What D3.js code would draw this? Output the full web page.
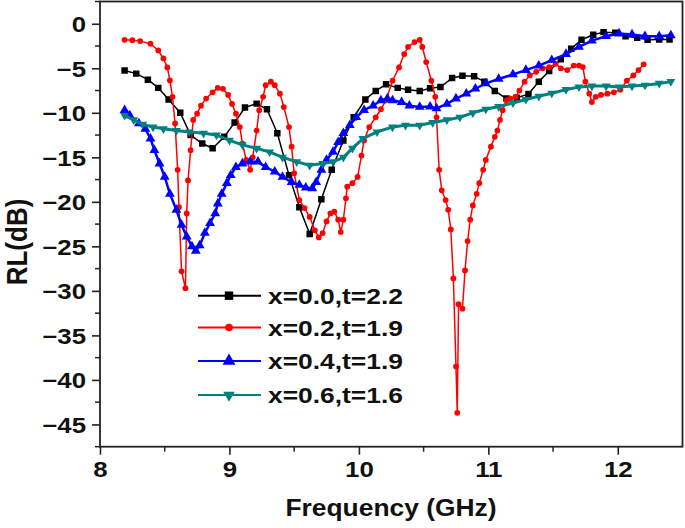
<!DOCTYPE html>
<html>
<head>
<meta charset="utf-8">
<script src="https://cdn.jsdelivr.net/npm/d3@7"></script>
<style>
  body { margin: 0; background: #fff; }
  svg text { font-family: "Liberation Sans", Arial, sans-serif; font-weight: bold; fill: #111; }
</style>
</head>
<body>
<svg id="chart" width="685" height="528"></svg>
<script>
// series: [frequency GHz, RL dB]
var x00 = [[8.19,-5.24],[8.28,-5.6],[8.37,-6.28],[8.45,-7.2],[8.53,-8.5],[8.62,-10.0],[8.70,-12.5],[8.79,-13.45],[8.87,-13.98],[8.96,-12.7],[9.04,-11.1],[9.12,-9.4],[9.21,-8.97],[9.29,-9.6],[9.37,-12.3],[9.46,-17.0],[9.54,-20.6],[9.62,-23.6],[9.71,-19.7],[9.79,-16.4],[9.88,-13.1],[9.96,-10.5],[10.05,-8.5],[10.13,-7.55],[10.21,-6.8],[10.30,-7.2],[10.38,-7.4],[10.47,-7.55],[10.55,-7.25],[10.63,-7.1],[10.72,-6.1],[10.80,-5.83],[10.89,-5.9],[10.97,-6.5],[11.05,-7.55],[11.14,-8.4],[11.22,-8.3],[11.31,-7.9],[11.39,-6.5],[11.47,-5.3],[11.56,-4.0],[11.64,-2.8],[11.72,-1.8],[11.81,-1.23],[11.89,-0.94],[11.98,-1.0],[12.06,-1.4],[12.15,-1.57],[12.23,-1.8],[12.32,-1.76],[12.40,-1.76]];

var x02 = [[8.19,-1.8],[8.25,-1.85],[8.31,-1.95],[8.39,-2.24],[8.45,-3.0],[8.49,-3.9],[8.52,-4.9],[8.54,-6.36],[8.56,-8.2],[8.58,-11.2],[8.60,-16.4],[8.61,-20.6],[8.63,-27.8],[8.66,-29.7],[8.67,-21.3],[8.68,-17.6],[8.70,-14.2],[8.72,-10.8],[8.75,-10.1],[8.78,-9.2],[8.82,-8.4],[8.87,-7.7],[8.91,-7.2],[8.95,-7.3],[8.99,-8.0],[9.02,-9.0],[9.05,-10.1],[9.08,-11.6],[9.10,-13.45],[9.13,-15.3],[9.16,-16.4],[9.18,-15.0],[9.21,-12.0],[9.23,-9.7],[9.26,-8.2],[9.28,-6.9],[9.32,-6.5],[9.35,-6.9],[9.39,-7.85],[9.42,-9.35],[9.46,-11.6],[9.48,-13.8],[9.50,-16.8],[9.54,-19.8],[9.58,-20.7],[9.62,-21.7],[9.66,-23.2],[9.69,-24.0],[9.72,-23.5],[9.75,-22.2],[9.78,-21.3],[9.81,-21.1],[9.84,-22.0],[9.86,-23.4],[9.88,-22.0],[9.90,-19.6],[9.91,-18.3],[9.95,-17.9],[9.99,-17.2],[10.02,-14.8],[10.04,-13.1],[10.08,-11.6],[10.13,-10.5],[10.17,-9.6],[10.21,-8.6],[10.26,-6.4],[10.31,-4.9],[10.35,-3.4],[10.38,-2.6],[10.43,-2.06],[10.47,-1.8],[10.49,-2.6],[10.52,-4.3],[10.56,-6.4],[10.59,-8.2],[10.60,-10.5],[10.62,-16.4],[10.64,-18.7],[10.67,-19.8],[10.69,-20.9],[10.71,-23.1],[10.73,-28.6],[10.75,-38.5],[10.76,-43.7],[10.77,-31.5],[10.80,-32.0],[10.82,-27.7],[10.84,-24.4],[10.86,-22.0],[10.88,-20.4],[10.91,-19.1],[10.93,-17.9],[10.96,-16.4],[10.98,-15.3],[11.02,-13.8],[11.05,-12.7],[11.07,-12.0],[11.09,-10.8],[11.11,-9.7],[11.14,-8.6],[11.17,-8.4],[11.21,-8.2],[11.24,-7.5],[11.28,-6.5],[11.32,-5.8],[11.37,-5.4],[11.42,-5.0],[11.47,-4.87],[11.52,-4.5],[11.56,-5.0],[11.61,-5.2],[11.66,-4.7],[11.70,-4.7],[11.73,-4.87],[11.75,-6.5],[11.78,-7.85],[11.80,-8.8],[11.83,-8.2],[11.87,-8.0],[11.92,-7.85],[11.97,-7.7],[12.02,-7.4],[12.07,-6.4],[12.12,-5.8],[12.16,-5.2],[12.20,-4.56]];

var x04 = [[8.19,-9.7],[8.23,-10.3],[8.30,-11.2],[8.35,-11.8],[8.39,-12.9],[8.42,-14.2],[8.46,-15.7],[8.50,-17.2],[8.54,-19.1],[8.59,-20.9],[8.63,-22.6],[8.67,-23.9],[8.71,-25.0],[8.74,-25.5],[8.77,-24.9],[8.81,-23.5],[8.85,-22.4],[8.89,-21.3],[8.91,-20.2],[8.94,-19.1],[8.98,-17.9],[9.01,-17.0],[9.05,-16.1],[9.10,-15.7],[9.16,-15.5],[9.22,-15.5],[9.28,-16.1],[9.35,-16.6],[9.41,-17.2],[9.48,-17.8],[9.54,-18.1],[9.59,-18.4],[9.64,-18.5],[9.67,-17.8],[9.71,-16.4],[9.75,-15.3],[9.80,-14.4],[9.84,-13.3],[9.88,-12.3],[9.93,-11.4],[9.98,-10.5],[10.04,-9.7],[10.11,-9.2],[10.17,-8.6],[10.22,-8.4],[10.26,-8.6],[10.33,-8.8],[10.39,-9.2],[10.47,-9.35],[10.55,-9.3],[10.60,-9.5],[10.68,-9.0],[10.75,-8.4],[10.83,-7.85],[10.90,-7.3],[10.98,-6.7],[11.08,-6.2],[11.19,-5.7],[11.29,-5.2],[11.39,-4.7],[11.49,-4.1],[11.60,-3.4],[11.70,-2.6],[11.80,-1.9],[11.91,-1.4],[12.01,-1.1],[12.11,-1.2],[12.21,-1.4],[12.32,-1.4],[12.41,-1.3]];

var x06 = [[8.19,-10.3],[8.26,-10.8],[8.33,-11.3],[8.41,-11.6],[8.49,-11.8],[8.59,-12.0],[8.69,-12.15],[8.80,-12.3],[8.90,-12.5],[9.00,-13.1],[9.10,-13.6],[9.21,-14.0],[9.31,-14.4],[9.41,-15.0],[9.52,-15.5],[9.62,-15.9],[9.72,-15.7],[9.80,-15.5],[9.88,-15.0],[9.95,-14.0],[10.03,-12.9],[10.14,-12.15],[10.26,-11.6],[10.36,-11.4],[10.47,-11.4],[10.57,-11.1],[10.68,-10.8],[10.78,-10.5],[10.88,-10.0],[10.98,-9.6],[11.08,-9.3],[11.19,-8.9],[11.29,-8.5],[11.39,-8.15],[11.49,-7.8],[11.60,-7.4],[11.70,-7.1],[11.80,-7.0],[11.91,-7.0],[12.01,-7.1],[12.11,-7.0],[12.21,-6.9],[12.32,-6.7],[12.41,-6.5]];

var names = ["x=0.0,t=2.2", "x=0.2,t=1.9", "x=0.4,t=1.9", "x=0.6,t=1.6"];
var colors = ["#000000", "#ff0000", "#0000ff", "#008080"];
var xTicks = [8, 9, 10, 11, 12];
var yTicks = [0, -5, -10, -15, -20, -25, -30, -35, -40, -45];

var svg = d3.select("#chart");
var pLeft = 100, pRight = 682.5, pTop = 1.5, pBottom = 446.7;

var x = d3.scaleLinear().domain([8, 12.5]).range([pLeft, pRight]);
var y = d3.scaleLinear().domain([-47.5, 2.5]).range([pBottom, pTop]);

svg.append("rect").attr("width", 685).attr("height", 528).attr("fill", "#fff");

// minor ticks
var xMinor = d3.range(8.5, 12.5, 1);
var yMinor = d3.range(-47.5, 2.6, 5);
svg.selectAll(".xminor").data(xMinor).enter().append("line")
  .attr("x1", d => x(d)).attr("x2", d => x(d))
  .attr("y1", pBottom).attr("y2", pBottom + 5)
  .attr("stroke", "#222").attr("stroke-width", 1.5);
svg.selectAll(".yminor").data(yMinor).enter().append("line")
  .attr("x1", pLeft - 5).attr("x2", pLeft)
  .attr("y1", d => y(d)).attr("y2", d => y(d))
  .attr("stroke", "#222").attr("stroke-width", 1.5);

// major ticks + labels
var xAxis = svg.append("g").attr("transform", "translate(0," + pBottom + ")")
  .call(d3.axisBottom(x).tickValues(xTicks).tickSize(8).tickFormat(d3.format("d")));
var yAxis = svg.append("g").attr("transform", "translate(" + pLeft + ",0)")
  .call(d3.axisLeft(y).tickValues(yTicks).tickSize(8).tickFormat(d3.format("d")));
[xAxis, yAxis].forEach(function(g) {
  g.select(".domain").remove();
  g.selectAll(".tick line").attr("stroke", "#222").attr("stroke-width", 1.6);
  g.selectAll(".tick text").attr("font-size", 21.5).attr("fill", "#111")
    .style("font-family", "Liberation Sans, Arial, sans-serif").style("font-weight", "bold");
});
// labels in the original are stretched sideways
yAxis.selectAll(".tick text").attr("x", -14 / 1.2).attr("dy", "0.36em")
  .attr("transform", "scale(1.2,1)");
xAxis.selectAll(".tick text").attr("x", 0).attr("y", 15).attr("dy", "0.71em")
  .attr("transform", "scale(1.2,1)");

// axis titles
svg.append("text")
  .attr("transform", "translate(391,516) scale(1.1,1)")
  .attr("text-anchor", "middle").attr("font-size", 24)
  .text("Frequency (GHz)");
svg.append("text")
  .attr("transform", "translate(27,242) rotate(-90) scale(1,1.12)")
  .attr("text-anchor", "middle").attr("font-size", 26)
  .text("RL(dB)");

var line = d3.line().x(d => x(d[0])).y(d => y(d[1]));

var symbols = [
  { type: d3.symbolSquare, size: 42, rot: 0 },
  { type: d3.symbolCircle, size: 26, rot: 0 },
  { type: d3.symbolTriangle, size: 42, rot: 0 },
  { type: d3.symbolTriangle, size: 34, rot: 180 }
];
var widths = [1.5, 1.5, 2.5, 3];
var allSeries = [x00, x02, x04, x06];

svg.append("defs").append("clipPath").attr("id", "clip")
  .append("rect").attr("x", pLeft).attr("y", pTop).attr("width", pRight - pLeft).attr("height", pBottom - pTop);

var plot = svg.append("g").attr("clip-path", "url(#clip)");

allSeries.forEach(function(data, i) {
  var g = plot.append("g");
  g.append("path").datum(data)
    .attr("d", line).attr("fill", "none")
    .attr("stroke", colors[i]).attr("stroke-width", widths[i]).attr("stroke-linejoin", "round");
  g.selectAll("path.pt").data(data).enter().append("path")
    .attr("class", "pt")
    .attr("d", d3.symbol().type(symbols[i].type).size(symbols[i].size))
    .attr("transform", d => "translate(" + x(d[0]) + "," + y(d[1]) + ") rotate(" + symbols[i].rot + ")")
    .attr("fill", colors[i]);
});

// frame
svg.append("rect")
  .attr("x", pLeft).attr("y", pTop)
  .attr("width", pRight - pLeft).attr("height", pBottom - pTop)
  .attr("fill", "none").attr("stroke", "#222").attr("stroke-width", 1.8);

// legend
var legendY = [295.7, 327.5, 361, 395];
names.forEach(function(n, i) {
  var g = svg.append("g").attr("transform", "translate(0," + legendY[i] + ")");
  g.append("line").attr("x1", 198).attr("x2", 261).attr("y1", 0).attr("y2", 0)
    .attr("stroke", colors[i]).attr("stroke-width", 2);
  g.append("path")
    .attr("d", d3.symbol().type(symbols[i].type).size(symbols[i].size * 1.7))
    .attr("transform", "translate(229,0) rotate(" + symbols[i].rot + ")")
    .attr("fill", colors[i]);
  g.append("text")
    .attr("transform", "translate(268,8) scale(1.2,1)")
    .attr("font-size", 22)
    .text(n);
});
</script>
</body>
</html>
